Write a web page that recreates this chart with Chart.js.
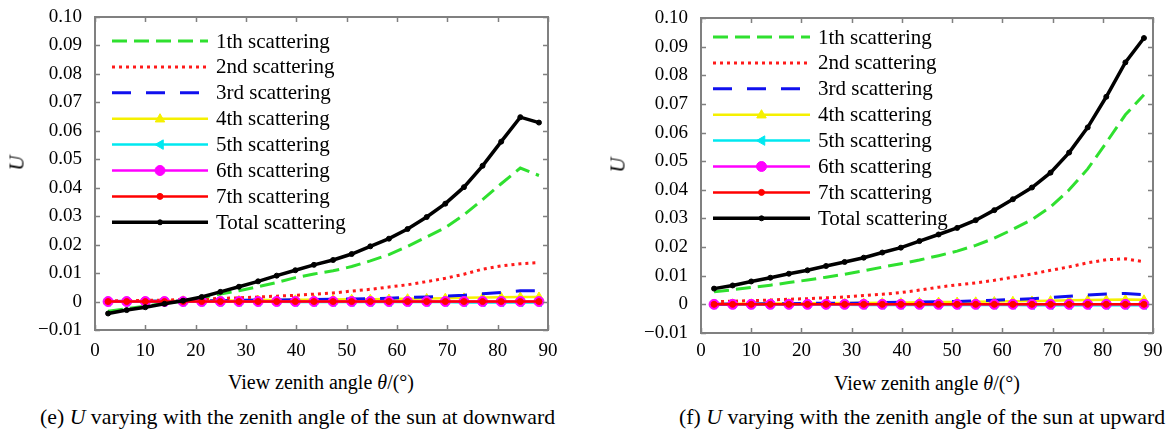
<!DOCTYPE html>
<html>
<head>
<meta charset="utf-8">
<script src="https://cdn.jsdelivr.net/npm/chart.js@4.4.1/dist/chart.umd.min.js"></script>
<style>
  html, body { margin: 0; padding: 0; background: #fff; }
  #wrap { position: relative; width: 1176px; height: 435px; overflow: hidden;
          font-family: "Liberation Serif", "Times New Roman", serif; color: #000; }
  .panel { position: absolute; top: 0; width: 588px; height: 370px; }
  .t { position: absolute; white-space: nowrap; line-height: 1; }
  .c { transform: translate(-50%, -50%); }
  .ytitle { font-size: 21px; font-style: italic; transform: translate(-50%, -50%) rotate(-90deg); }
  .xtitle { font-size: 20px; }
  .cap { font-size: 21.8px; transform: translateY(-50%); }
</style>
</head>
<body>
<div id="wrap">
  <div class="panel" style="left:0"><canvas id="chartE" width="588" height="370"></canvas></div>
  <div class="panel" style="left:588px"><canvas id="chartF" width="588" height="370"></canvas></div>

  <div class="t ytitle" style="left:17px; top:163px">U</div>
  <div class="t ytitle" style="left:618px; top:165px">U</div>
  <div class="t xtitle c" style="left:321px; top:382px">View zenith angle <i>θ</i>/(°)</div>
  <div class="t xtitle c" style="left:927px; top:383px">View zenith angle <i>θ</i>/(°)</div>
  <div class="t cap" style="left:40px; top:418px">(e) <i>U</i> varying with the zenith angle of the sun at downward</div>
  <div class="t cap" style="left:679px; top:418px">(f) <i>U</i> varying with the zenith angle of the sun at upward</div>
</div>

<script>
// ---------------- data ----------------
const ANGLES = [2.6, 6.3, 10.0, 13.8, 17.5, 21.2, 24.9, 28.6, 32.4, 36.1, 39.8, 43.5,
                47.3, 51.0, 54.7, 58.4, 62.1, 65.9, 69.6, 73.3, 77.0, 80.7, 84.5, 88.2];

const SERIES_NAMES = ["1th scattering", "2nd scattering", "3rd scattering", "4th scattering",
                      "5th scattering", "6th scattering", "7th scattering", "Total scattering"];

const X_TICKS = [0, 10, 20, 30, 40, 50, 60, 70, 80, 90];
const Y_TICKS = [-0.01, 0, 0.01, 0.02, 0.03, 0.04, 0.05, 0.06, 0.07, 0.08, 0.09, 0.10];

// (e) sun at downward
const E_FIRST  = [-0.0034, -0.0025, -0.0016, -0.0007, 0.0003, 0.0014, 0.0026, 0.0038, 0.0052, 0.0067, 0.0084, 0.0097,
                  0.0108, 0.0123, 0.0143, 0.0165, 0.0194, 0.0227, 0.0260, 0.0305, 0.0358, 0.0414, 0.0469, 0.0443];
const E_SECOND = [0.0002, 0.0003, 0.0004, 0.0005, 0.0007, 0.0009, 0.0011, 0.0013, 0.0016, 0.0019, 0.0022, 0.0026,
                  0.0030, 0.0037, 0.0043, 0.0051, 0.0059, 0.0070, 0.0082, 0.0096, 0.0114, 0.0125, 0.0133, 0.0137];
const E_THIRD  = [0.0000, 0.0001, 0.0001, 0.0002, 0.0002, 0.0003, 0.0003, 0.0004, 0.0005, 0.0005, 0.0006, 0.0007,
                  0.0008, 0.0009, 0.0010, 0.0012, 0.0014, 0.0016, 0.0019, 0.0022, 0.0027, 0.0032, 0.0038, 0.0038];
const E_FOURTH = [0.0001, 0.0001, 0.0002, 0.0002, 0.0003, 0.0003, 0.0004, 0.0004, 0.0005, 0.0005, 0.0006, 0.0006,
                  0.0007, 0.0008, 0.0008, 0.0009, 0.0010, 0.0011, 0.0012, 0.0013, 0.0014, 0.0015, 0.0016, 0.0016];
const E_FIFTH  = [-0.0001, -0.0001, -0.0001, -0.0001, -0.0001, -0.0001, -0.0001, -0.0001, -0.0001, -0.0001, -0.0002, -0.0002,
                  -0.0002, -0.0002, -0.0002, -0.0002, -0.0002, -0.0002, -0.0002, -0.0003, -0.0003, -0.0003, -0.0003, -0.0003];
const E_SIXTH  = [0, 0, 0, 0, 0, 0, 0, 0, 0, 0, 0, 0, 0, 0, 0, 0, 0, 0, 0, 0, 0, 0, 0, 0];
const E_SEVENTH = [0, 0, 0, 0, 0, 0, 0, 0, 0, 0, 0, 0, 0, 0, 0, 0, 0, 0, 0, 0, 0, 0, 0, 0];
const E_TOTAL  = [-0.0042, -0.0030, -0.0020, -0.0008, 0.0003, 0.0016, 0.0034, 0.0052, 0.0071, 0.0091, 0.0110, 0.0129,
                  0.0146, 0.0167, 0.0194, 0.0221, 0.0255, 0.0297, 0.0344, 0.0402, 0.0477, 0.0562, 0.0648, 0.0629];

// (f) sun at upward
const F_FIRST  = [0.0044, 0.0051, 0.0059, 0.0067, 0.0076, 0.0085, 0.0095, 0.0105, 0.0117, 0.0130, 0.0142, 0.0155,
                  0.0170, 0.0186, 0.0206, 0.0231, 0.0262, 0.0296, 0.0340, 0.0400, 0.0473, 0.0565, 0.0662, 0.0732];
const F_SECOND = [0.0009, 0.0011, 0.0013, 0.0015, 0.0018, 0.0020, 0.0023, 0.0026, 0.0031, 0.0035, 0.0041, 0.0050,
                  0.0060, 0.0068, 0.0075, 0.0084, 0.0095, 0.0106, 0.0119, 0.0131, 0.0145, 0.0156, 0.0159, 0.0149];
const F_THIRD  = [0.0000, 0.0001, 0.0001, 0.0002, 0.0002, 0.0003, 0.0004, 0.0004, 0.0005, 0.0006, 0.0007, 0.0008,
                  0.0009, 0.0010, 0.0012, 0.0014, 0.0017, 0.0020, 0.0024, 0.0028, 0.0033, 0.0036, 0.0038, 0.0034];
const F_FOURTH = [0.0001, 0.0002, 0.0002, 0.0003, 0.0003, 0.0004, 0.0004, 0.0005, 0.0005, 0.0006, 0.0006, 0.0007,
                  0.0008, 0.0008, 0.0009, 0.0010, 0.0011, 0.0012, 0.0013, 0.0014, 0.0015, 0.0016, 0.0017, 0.0016];
const F_FIFTH  = [-0.0001, -0.0001, -0.0001, -0.0001, -0.0001, -0.0001, -0.0001, -0.0001, -0.0002, -0.0002, -0.0002, -0.0002,
                  -0.0002, -0.0002, -0.0002, -0.0002, -0.0002, -0.0003, -0.0003, -0.0003, -0.0003, -0.0003, -0.0003, -0.0003];
const F_SIXTH  = [0, 0, 0, 0, 0, 0, 0, 0, 0, 0, 0, 0, 0, 0, 0, 0, 0, 0, 0, 0, 0, 0, 0, 0];
const F_SEVENTH = [0, 0, 0, 0, 0, 0, 0, 0, 0, 0, 0, 0, 0, 0, 0, 0, 0, 0, 0, 0, 0, 0, 0, 0];
const F_TOTAL  = [0.0055, 0.0066, 0.0080, 0.0093, 0.0107, 0.0119, 0.0134, 0.0148, 0.0163, 0.0181, 0.0198, 0.0221,
                  0.0244, 0.0267, 0.0294, 0.0329, 0.0367, 0.0408, 0.0460, 0.0530, 0.0618, 0.0725, 0.0845, 0.0930];

const FONT = "'Liberation Serif', 'Times New Roman', serif";
Chart.defaults.font.family = FONT;
Chart.defaults.color = "#000";

// ---------------- styles of the eight series ----------------
const STYLES = [
  { color: "#2fe02f", width: 3,   dash: [15, 7], order: 3 },
  { color: "#ff1a1a", width: 3,   dash: [3, 4],  order: 4 },
  { color: "#1010ee", width: 3,   dash: [19, 15], order: 5 },
  { color: "#f5f000", width: 2.5, point: "triangle", radius: 5, order: 7 },
  { color: "#00e8f0", width: 2.5, point: "triangle", radius: 5, rotation: -90, order: 6 },
  { color: "#ff00ff", width: 2.5, point: "circle", radius: 5, order: 2 },
  { color: "#ff0000", width: 2.5, point: "circle", radius: 3, order: 1 },
  { color: "#000000", width: 3.5, point: "circle", radius: 2.5, order: 0 }
];

function buildDatasets(seriesList) {
  return seriesList.map((values, i) => {
    const s = STYLES[i];
    return {
      label: SERIES_NAMES[i],
      data: ANGLES.map((a, k) => ({ x: a, y: values[k] })),
      borderColor: s.color,
      backgroundColor: s.color,
      borderWidth: s.width,
      borderDash: s.dash || [],
      pointStyle: s.point || "circle",
      pointRadius: s.point ? s.radius : 0,
      pointRotation: s.rotation || 0,
      pointBorderWidth: 1,
      tension: 0,
      order: s.order
    };
  });
}

// draw a marker like the chart does, for the legend
function drawMarker(ctx, s, cx, cy) {
  if (!s.point) return;
  ctx.save();
  ctx.fillStyle = s.color;
  ctx.strokeStyle = s.color;
  ctx.lineWidth = 1;
  ctx.translate(cx, cy);
  ctx.rotate((s.rotation || 0) * Math.PI / 180);
  ctx.beginPath();
  if (s.point === "triangle") {
    const r = s.radius;
    ctx.moveTo(0, -r);
    ctx.lineTo(r * 0.95, r * 0.65);
    ctx.lineTo(-r * 0.95, r * 0.65);
    ctx.closePath();
  } else {
    ctx.arc(0, 0, s.radius, 0, Math.PI * 2);
  }
  ctx.fill();
  ctx.stroke();
  ctx.restore();
}

// ---------------- plugins: boxed frame with inside ticks, legend ----------------
const framePlugin = {
  id: "frame",
  afterDatasetsDraw(chart) {
    const { ctx, chartArea: a, scales } = chart;
    const x = scales.x, y = scales.y, len = 5;
    ctx.save();
    ctx.strokeStyle = "#808080";
    ctx.lineWidth = 2;
    ctx.setLineDash([]);
    ctx.strokeRect(a.left, a.top, a.right - a.left, a.bottom - a.top);
    ctx.lineWidth = 1.5;
    ctx.beginPath();
    X_TICKS.forEach(v => {
      const px = Math.round(x.getPixelForValue(v)) + 0.5;
      ctx.moveTo(px, a.bottom); ctx.lineTo(px, a.bottom - len);
      ctx.moveTo(px, a.top);    ctx.lineTo(px, a.top + len);
    });
    Y_TICKS.forEach(v => {
      const py = Math.round(y.getPixelForValue(v)) + 0.5;
      ctx.moveTo(a.left, py);  ctx.lineTo(a.left + len, py);
      ctx.moveTo(a.right, py); ctx.lineTo(a.right - len, py);
    });
    ctx.stroke();
    ctx.restore();
  }
};

const legendPlugin = {
  id: "scatterLegend",
  afterDatasetsDraw(chart, args, opts) {
    const { ctx, chartArea: a } = chart;
    ctx.save();
    ctx.font = "21px " + FONT;
    ctx.textBaseline = "middle";
    ctx.fillStyle = "#000";
    STYLES.forEach((s, i) => {
      const yy = a.top + opts.top + i * opts.step;
      const x0 = a.left + opts.left, x1 = x0 + opts.lineLen;
      ctx.strokeStyle = s.color;
      ctx.lineWidth = s.width;
      ctx.setLineDash(s.dash || []);
      ctx.beginPath();
      ctx.moveTo(x0, yy);
      ctx.lineTo(x1, yy);
      ctx.stroke();
      ctx.setLineDash([]);
      drawMarker(ctx, s, (x0 + x1) / 2, yy);
      ctx.fillText(SERIES_NAMES[i], x1 + opts.gap, yy + 1);
    });
    ctx.restore();
  }
};

function tickLabel(v) {
  const r = Math.round(v * 100) / 100;
  if (Math.abs(r) < 1e-9) return "0";
  if (r < 0) return "\u2212" + Math.abs(r).toFixed(2);
  return r.toFixed(2);
}

function makeChart(id, seriesList, p) {
  const ctx = document.getElementById(id).getContext("2d");
  return new Chart(ctx, {
    type: "line",
    data: { datasets: buildDatasets(seriesList) },
    plugins: [framePlugin, legendPlugin],
    options: {
      responsive: false,
      animation: false,
      layout: { padding: { left: 0, top: p.top, right: p.right, bottom: 0 } },
      plugins: {
        legend: { display: false },
        tooltip: { enabled: false },
        scatterLegend: p.legend
      },
      scales: {
        x: {
          type: "linear", min: 0, max: 90,
          grid: { display: false, drawTicks: false }, border: { display: false },
          ticks: { stepSize: 10, color: "#000", padding: p.xPad, maxRotation: 0,
                   font: { family: FONT, size: 19 } },
          afterFit: scale => {
            scale.height = p.xHeight;
            scale.paddingLeft = 0; scale.paddingRight = 0;
          }
        },
        y: {
          type: "linear", min: -0.01, max: 0.10,
          grid: { display: false, drawTicks: false }, border: { display: false },
          ticks: { stepSize: 0.01, color: "#000", padding: 13, callback: tickLabel,
                   font: { family: FONT, size: 19 } },
          afterFit: scale => {
            scale.width = p.yWidth;
            scale.paddingTop = 0; scale.paddingBottom = 0;
          }
        }
      }
    }
  });
}

document.addEventListener("DOMContentLoaded", () => {
  makeChart("chartE",
    [E_FIRST, E_SECOND, E_THIRD, E_FOURTH, E_FIFTH, E_SIXTH, E_SEVENTH, E_TOTAL],
    { top: 17, right: 40, yWidth: 95, xHeight: 40, xPad: 10,
      legend: { left: 17, top: 24, step: 25.9, lineLen: 96, gap: 8 } });
  makeChart("chartF",
    [F_FIRST, F_SECOND, F_THIRD, F_FOURTH, F_FIFTH, F_SIXTH, F_SEVENTH, F_TOTAL],
    { top: 18, right: 23, yWidth: 113, xHeight: 37, xPad: 7,
      legend: { left: 12, top: 19, step: 25.9, lineLen: 97, gap: 8 } });
});
</script>
</body>
</html>
